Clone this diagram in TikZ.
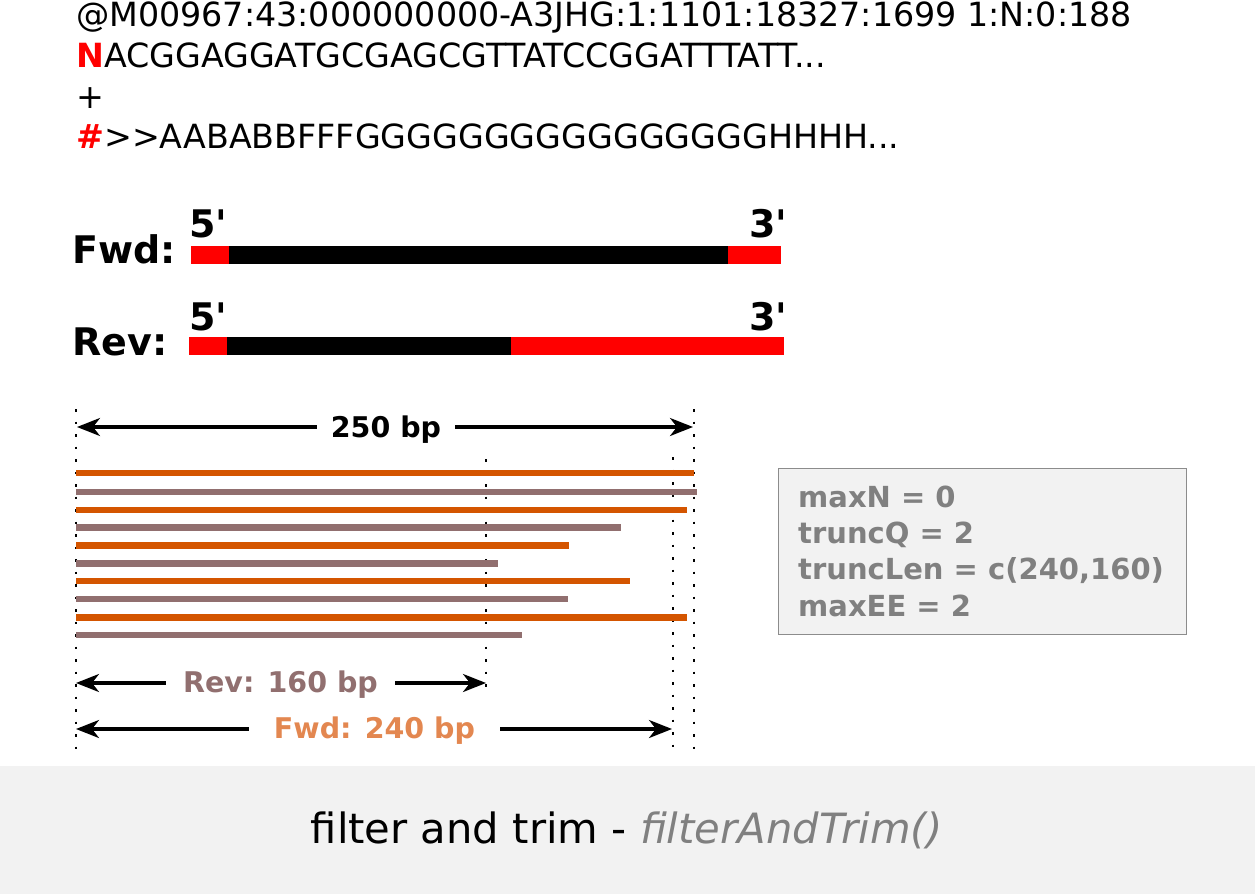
\documentclass[tikz,border=0pt]{standalone}
\usepackage{fontspec}
\setmainfont{DejaVu Sans}
\usetikzlibrary{arrows.meta}
\definecolor{readorange}{HTML}{D45500}
\definecolor{readmauve}{HTML}{916F6F}
\definecolor{fwdtext}{HTML}{E38750}
\definecolor{panel}{HTML}{F2F2F2}
\definecolor{boxtext}{HTML}{808080}
\definecolor{boxline}{HTML}{8C8C8C}
\definecolor{pureRed}{HTML}{FF0000}
\begin{document}
\begin{tikzpicture}[x=1pt,y=-1pt,
  seqtext/.style={anchor=base west, inner sep=0pt, font=\fontsize{33.3}{40}\selectfont},
  strandlabel/.style={anchor=base west, inner sep=0pt, font=\fontsize{38}{44}\selectfont\bfseries},
  endlabel/.style={anchor=base west, inner sep=0pt, font=\fontsize{38}{44}\selectfont\bfseries},
  dotline/.style={line width=2.6pt, dash pattern=on 2.6pt off 9.9pt, black},
  dimarrow/.style={line width=3.2pt, -{Stealth[length=23pt,width=18pt,inset=7pt]}},
  dimlabel/.style={anchor=base, inner sep=0pt, font=\fontsize{28.5}{34}\selectfont\bfseries},
  readO/.style={line width=6.5pt, readorange},
  readM/.style={line width=6.5pt, readmauve},
  paramtext/.style={anchor=base west, inner sep=0pt, text=boxtext, font=\fontsize{29}{36}\selectfont\bfseries},
]
\useasboundingbox (0,0) rectangle (1255,894);
\fill[white] (0,0) rectangle (1255,894);
\fill[panel] (0,766) rectangle (1255,894);

% FASTQ record
\node[seqtext] (l1) at (76,26) {@M00967:43:000000000-A3JHG:1:1101:18327:1699 1:N:0:188};
\node[seqtext] (l2) at (76,67.5) {\textcolor{pureRed}{\bfseries N}ACGGAGGATGCGAGCGTTATCCGGATTTATT...};
\node[seqtext] (l3) at (76,108.5) {+};
\node[seqtext] (l4) at (76,148.5) {\textcolor{pureRed}{\bfseries \#}>{}>AABABBFFFGGGGGGGGGGGGGGGGHHHH...};

% Fwd strand
\node[strandlabel] (fwd) at (72,263) {Fwd:};
\fill[pureRed] (191,246) rectangle (229,264);
\fill[black] (229,246) rectangle (728,264);
\fill[pureRed] (728,246) rectangle (781,264);
\node[endlabel] (f5) at (189,237) {5\textquotesingle};
\node[endlabel] (f3) at (749,237) {3\textquotesingle};

% Rev strand
\node[strandlabel] (rev) at (72,355) {Rev:};
\fill[pureRed] (189,337) rectangle (227,354.5);
\fill[black] (227,337) rectangle (511,354.5);
\fill[pureRed] (511,337) rectangle (784,354.5);
\node[endlabel] (r5) at (189,330) {5\textquotesingle};
\node[endlabel] (r3) at (749,330) {3\textquotesingle};

% dotted guides
\coordinate (d1t) at (76,409);   \coordinate (d1b) at (76,750);
\coordinate (d2t) at (694,409);  \coordinate (d2b) at (694,750);
\coordinate (d3t) at (486,459);  \coordinate (d3b) at (486,690);
\coordinate (d4t) at (673,457);  \coordinate (d4b) at (673,750);
\draw[dotline] (d1t) -- (d1b);
\draw[dotline] (d2t) -- (d2b);
\draw[dotline] (d3t) -- (d3b);
\draw[dotline] (d4t) -- (d4b);

% 250 bp
\node[dimlabel, inner xsep=14pt] (t250) at (386,437) {250 bp};
\coordinate (a250l) at (77,427);
\coordinate (a250r) at (693,427);
\draw[dimarrow] (t250.west |- a250l) -- (a250l);
\draw[dimarrow] (t250.east |- a250r) -- (a250r);

% reads
\draw[readO] (76,473) -- (694,473);
\draw[readM] (76,492) -- (697,492);
\draw[readO] (76,510) -- (687,510);
\draw[readM] (76,527.5) -- (621,527.5);
\draw[readO] (76,545.5) -- (569,545.5);
\draw[readM] (76,563.5) -- (498,563.5);
\draw[readO] (76,581) -- (630,581);
\draw[readM] (76,599) -- (568,599);
\draw[readO] (76,617.5) -- (687,617.5);
\draw[readM] (76,635) -- (522,635);

% Rev: 160 bp
\node[dimlabel, text=readmauve, inner xsep=17pt] (t160) at (280.5,692) {Rev: 160 bp};
\coordinate (a160l) at (76,683);
\coordinate (a160r) at (486,683);
\draw[dimarrow] (t160.west |- a160l) -- (a160l);
\draw[dimarrow] (t160.east |- a160r) -- (a160r);

% Fwd: 240 bp
\node[dimlabel, text=fwdtext, inner xsep=25pt] (t240) at (374.5,738) {Fwd: 240 bp};
\coordinate (a240l) at (76,729);
\coordinate (a240r) at (672,729);
\draw[dimarrow] (t240.west |- a240l) -- (a240l);
\draw[dimarrow] (t240.east |- a240r) -- (a240r);

% parameter box
\node[draw=boxline, fill=panel, line width=1pt, inner sep=0pt, minimum width=408pt, minimum height=166pt, anchor=north west] (pbox) at (778,467.5) {};
\node[paramtext] (p1) at (798,507) {maxN = 0};
\node[paramtext] (p2) at (798,543) {truncQ = 2};
\node[paramtext] (p3) at (798,579.5) {truncLen = c(240,160)};
\node[paramtext] (p4) at (798,616) {maxEE = 2};

% caption
\node[anchor=base, inner sep=0pt, font=\fontsize{41.7}{48}\selectfont] (cap) at (627,843) {filter and trim - \textcolor{boxtext}{\itshape filterAndTrim()}};
\end{tikzpicture}
\end{document}
